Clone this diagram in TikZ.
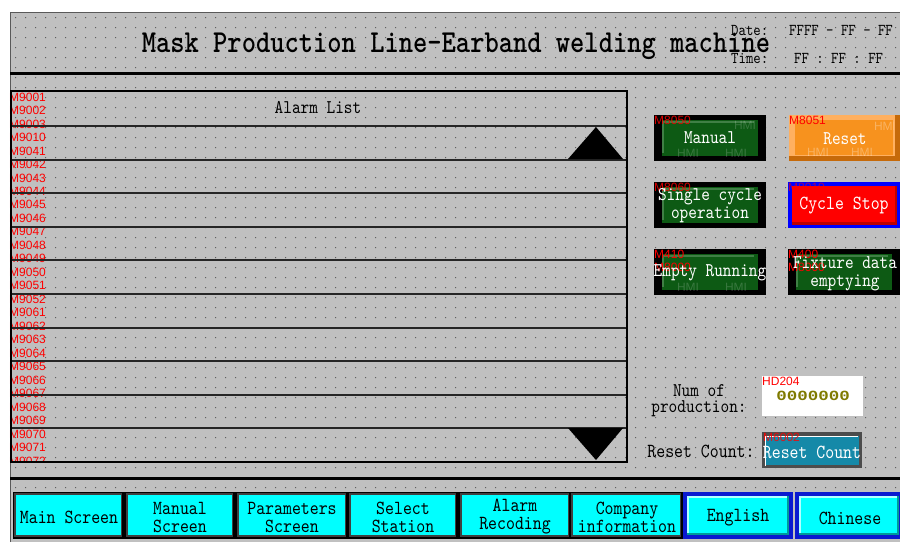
\documentclass[tikz,border=0pt]{standalone}
\usepackage{fontspec}
\newfontfamily\labfont{Liberation Sans}
\newfontfamily\digitfont[FakeStretch=1.25]{Liberation Mono Bold}
\newfontfamily\hmifont{lmmono10-regular}[Extension=.otf, FakeStretch=0.85]
\newfontfamily\hmititle{lmmonolt10-bold}[Extension=.otf, FakeStretch=0.85]
\definecolor{panel}{HTML}{C0C0C0}
\definecolor{dotc}{HTML}{5C5C5C}
\definecolor{btngreen}{HTML}{0D5A14}
\definecolor{btnhi}{HTML}{3F7F45}
\definecolor{orangeb}{HTML}{F7921E}
\definecolor{orangehi}{HTML}{FFB060}
\definecolor{orangedk}{HTML}{C66A0A}
\definecolor{tealb}{HTML}{1589A8}
\definecolor{olivec}{HTML}{7F7A00}
\definecolor{navb}{HTML}{00FFFF}
\definecolor{blueb}{HTML}{0A1AD0}
\begin{document}
\begin{tikzpicture}[x=1pt,y=-1pt,
  mono/.style={font=\hmifont\fontsize{20}{18}\selectfont, inner sep=0pt, align=center},
  alabel/.style={font=\hmifont\fontsize{19.4}{18}\selectfont, inner sep=0pt},
  small/.style={font=\hmifont\fontsize{16.6}{16}\selectfont, inner sep=0pt, anchor=west},
  btntext/.style={font=\hmifont\fontsize{19.4}{18}\selectfont, text=white, inner sep=0pt, align=center},
  redlab/.style={font=\labfont\fontsize{12}{12}\selectfont, text=red, inner sep=0pt},
  wmark/.style={font=\labfont\fontsize{12}{12}\selectfont, text=white, opacity=0.18, inner sep=0pt},
  navtext/.style={font=\hmifont\fontsize{20}{18}\selectfont, text=black, inner sep=0pt, align=center}]
\useasboundingbox (0,0) rectangle (900,542);
\fill[white] (0,0) rectangle (900,542);
\fill[panel] (10,12) rectangle (900,542);
\draw[gray!70!black, line width=1] (10,542) -- (10,12) -- (900,12);
% dot grid
\fill[dotc] \foreach \i in {0,...,88} {\foreach \j in {0,...,52} {(15+\i*10,17+\j*10) rectangle ++(1,1)}};

% header
\node[font=\hmititle\fontsize{32}{32}\selectfont, inner sep=0pt] (title) at (456,46) {Mask Production Line-Earband welding machine};
\node[small] (datel) at (731,30) {Date:};
\node[small] (dateval) at (789,30) {FFFF - FF - FF};
\node[small] (timel) at (731,58) {Time:};
\node[small] (timeval) at (794,58) {FF : FF : FF};
\draw[line width=3] (10,73) -- (900,73);

% alarm list
\begin{scope}
\clip (0,85) rectangle (640,461);
\foreach \t [count=\n from 0] in {M9001,M9002,M9003,M9010,M9041,M9042,M9043,M9044,M9045,M9046,M9047,M9048,M9049,M9050,M9051,M9052,M9061,M9062,M9063,M9064,M9065,M9066,M9067,M9068,M9069,M9070,M9071,M9072}
  \node[redlab, anchor=west] (al\n) at (9,97+\n*13.48) {\t};
\end{scope}
\foreach \k in {0,...,9} \draw[line width=2, black!85] (11,126+\k*33.6) -- (627,126+\k*33.6);
\draw[line width=2.5] (11,91) rectangle (627,462);
\node[alabel] (alarmlist) at (318,108) {Alarm List};
\fill (596,127) -- (623,159) -- (568,159) -- cycle;
\fill (568,428) -- (623,428) -- (596,460) -- cycle;

% green buttons
\foreach \x/\y in {654/115, 654/182, 654/249, 788/249} {
  \fill[black] (\x,\y) rectangle ++(112,46);
  \fill[btngreen] (\x+8,\y+5) rectangle ++(96,36);
  \draw[btnhi, line width=1.5] (\x+9,\y+38) -- (\x+9,\y+7) -- (\x+100,\y+7);
}
\begin{scope}
\clip (662,120) rectangle ++(96,36);
\node[wmark] (wm1) at (745,125) {HMI};
\node[wmark] (wm2) at (688,153) {HMI};
\node[wmark] (wm3) at (736,153) {HMI};
\end{scope}
\begin{scope}
\clip (662,254) rectangle ++(96,36);
\node[wmark] (wm4) at (688,287) {HMI};
\node[wmark] (wm5) at (736,287) {HMI};
\end{scope}
\node[redlab, anchor=north west, opacity=0.85] (lm8050) at (654,116) {M8050};
\node[btntext] (manual) at (710,138) {Manual};
\node[redlab, anchor=north west, opacity=0.85] (lm8060) at (654,183) {M8060};
\node[btntext] (single) at (710,206) {Single cycle\\operation};
\node[redlab, anchor=north west] (lm410) at (654,250) {M410};
\node[redlab, anchor=north west] (lm8000a) at (654,263) {M8000};
\node[btntext] (empty) at (710,273) {Empty Running};
\node[redlab, anchor=north west] (lm400) at (788,250) {M400};
\node[redlab, anchor=north west] (lm8000b) at (788,263) {M8000};
\node[btntext] (fixture) at (845,274) {Fixture data\\emptying};

% reset (orange)
\fill[orangedk] (789,115) rectangle (900,161);
\fill[orangehi] (789,115) rectangle (895,156);
\fill[orangeb] (795,120) rectangle (893,155);
\begin{scope}
\clip (795,120) rectangle (893,155);
\node[wmark, opacity=0.3] (wm6) at (885,126) {HMI};
\node[wmark, opacity=0.3] (wm7) at (818,152) {HMI};
\node[wmark, opacity=0.3] (wm8) at (862,152) {HMI};
\end{scope}
\node[redlab, anchor=north west] (lm8051) at (789,116) {M8051};
\node[btntext] (reset) at (845,139) {Reset};

% cycle stop
\fill[blue] (788,182) rectangle (900,228);
\fill[red!75!black] (792,186) rectangle (897,225);
\fill[red] (792,186) rectangle (895,222);
\node[redlab, anchor=north west, opacity=0.6] (lm8010) at (788,183) {M8010};
\node[btntext, font=\hmifont\fontsize{20}{18}\selectfont] (cyclestop) at (844,206) {Cycle Stop};

% production counter
\node[alabel] (numof) at (699,391) {Num of};
\node[alabel] (production) at (699,409) {production:};
\fill[white] (762,376) rectangle (863,416);
\node[redlab, anchor=north west] (hd204) at (762,377) {HD204};
\node[font=\digitfont\fontsize{14}{14}\selectfont, text=olivec, inner sep=0pt] (count) at (813,396) {0000000};

% reset count
\node[mono] (resetcountl) at (701,451) {Reset Count:};
\fill[gray!60!black] (762,432) rectangle (862,468);
\fill[tealb] (766,436) rectangle (859,465);
\draw[white, line width=1.2] (765.5,466) -- (765.5,436.5) -- (858,436.5);
\node[redlab, anchor=north west, opacity=0.85] (lm6002) at (763,433) {M6002};
\node[btntext, font=\hmifont\fontsize{20}{18}\selectfont] (resetcount) at (812,452) {Reset Count};

% bottom line
\draw[line width=3] (10,478) -- (900,478);

% navigation buttons
\foreach \a/\b in {15/123, 127/234, 238/347, 350/457, 461/570, 572/682} {
  \fill[black] (\a-2,492) rectangle (\b+2,539);
  \fill[gray!50!black] (\a-1,493) rectangle (\b-1,537);
  \fill[navb] (\a+1,495) rectangle (\b-2,535);
}
\foreach \a/\b in {683/793, 795/903} {
  \fill[blueb] (\a,492) rectangle (\b,539);
  \fill[navb!60!black] (\a+4,496) rectangle (\b-4,535);
  \fill[white!70!navb] (\a+4,496) rectangle (\b-6,533);
  \fill[navb] (\a+6,498) rectangle (\b-6,533);
}
\node[navtext] (mainscreen) at (69,517) {Main Screen};
\node[navtext] (manualscreen) at (180,517) {Manual\\Screen};
\node[navtext] (paramscreen) at (292,517) {Parameters\\Screen};
\node[navtext] (selectstation) at (403,517) {Select\\Station};
\node[navtext] (alarmrec) at (515,517) {Alarm\\Recoding};
\node[navtext] (company) at (627,517) {Company\\information};
\node[navtext] (english) at (738,518) {English};
\node[navtext] (chinese) at (850,518) {Chinese};
\end{tikzpicture}
\end{document}
